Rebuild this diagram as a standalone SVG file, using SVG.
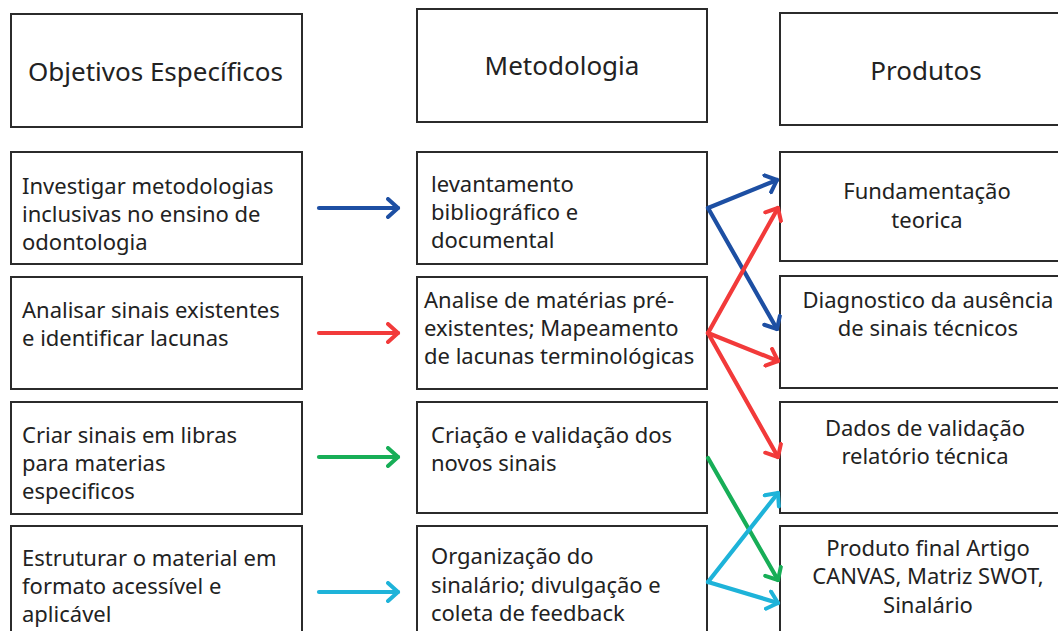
<svg xmlns="http://www.w3.org/2000/svg" width="1058" height="631" viewBox="0 0 1058 631">
<style>
.box{fill:#fff;stroke:#2b2b2b;stroke-width:2}
.t{font-family:"Noto Sans","Open Sans",sans-serif;font-size:22px;fill:#222}
.h{font-family:"Noto Sans","Open Sans",sans-serif;font-size:26px;fill:#222}
.c{text-anchor:middle}
.a{fill:none;stroke-width:4.2;stroke-linecap:round}
.blue{stroke:#1d4fa3}
.red{stroke:#f23a3a}
.green{stroke:#17ae57}
.cyan{stroke:#1eb3d9}
</style>
<defs>
<marker id="mb" markerUnits="userSpaceOnUse" markerWidth="20" markerHeight="22" refX="12" refY="10" orient="auto" viewBox="0 0 20 20"><path d="M2,1 L12,10 L2,19" fill="none" stroke="#1d4fa3" stroke-width="4" stroke-linecap="round" stroke-linejoin="round"/></marker>
<marker id="mr" markerUnits="userSpaceOnUse" markerWidth="20" markerHeight="22" refX="12" refY="10" orient="auto" viewBox="0 0 20 20"><path d="M2,1 L12,10 L2,19" fill="none" stroke="#f23a3a" stroke-width="4" stroke-linecap="round" stroke-linejoin="round"/></marker>
<marker id="mg" markerUnits="userSpaceOnUse" markerWidth="20" markerHeight="22" refX="12" refY="10" orient="auto" viewBox="0 0 20 20"><path d="M2,1 L12,10 L2,19" fill="none" stroke="#17ae57" stroke-width="4" stroke-linecap="round" stroke-linejoin="round"/></marker>
<marker id="mc" markerUnits="userSpaceOnUse" markerWidth="20" markerHeight="22" refX="12" refY="10" orient="auto" viewBox="0 0 20 20"><path d="M2,1 L12,10 L2,19" fill="none" stroke="#1eb3d9" stroke-width="4" stroke-linecap="round" stroke-linejoin="round"/></marker>
</defs>
<rect width="1058" height="631" fill="#fff"/>

<g id="h-objetivos"><rect class="box" x="11" y="14" width="291" height="113"/><text class="h" x="28" y="81">Objetivos Específicos</text></g>
<g id="h-metodologia"><rect class="box" x="417" y="9" width="290" height="113"/><text class="h c" x="562" y="75">Metodologia</text></g>
<g id="h-produtos"><rect class="box" x="780" y="13" width="290" height="112"/><text class="h c" x="926" y="80">Produtos</text></g>

<g id="o1"><rect class="box" x="11" y="152" width="291" height="112"/><text class="t" x="22" y="194">Investigar metodologias</text><text class="t" x="22" y="222">inclusivas no ensino de</text><text class="t" x="22" y="250">odontologia</text></g>
<g id="o2"><rect class="box" x="11" y="277" width="291" height="112"/><text class="t" x="22" y="318">Analisar sinais existentes</text><text class="t" x="22" y="346">e identificar lacunas</text></g>
<g id="o3"><rect class="box" x="11" y="402" width="291" height="112"/><text class="t" x="22" y="443">Criar sinais em libras</text><text class="t" x="22" y="471">para materias</text><text class="t" x="22" y="499">especificos</text></g>
<g id="o4"><rect class="box" x="11" y="526" width="291" height="120"/><text class="t" x="22" y="566">Estruturar o material em</text><text class="t" x="22" y="594">formato acessível e</text><text class="t" x="22" y="622">aplicável</text></g>

<g id="m1"><rect class="box" x="417" y="152" width="290" height="112"/><text class="t" x="431" y="192">levantamento</text><text class="t" x="431" y="220">bibliográfico e</text><text class="t" x="431" y="248">documental</text></g>
<g id="m2"><rect class="box" x="417" y="277" width="290" height="112"/><text class="t" x="424" y="308">Analise de matérias pré-</text><text class="t" x="424" y="336">existentes; Mapeamento</text><text class="t" x="424" y="364">de lacunas terminológicas</text></g>
<g id="m3"><rect class="box" x="417" y="402" width="290" height="111"/><text class="t" x="431" y="443">Criação e validação dos</text><text class="t" x="431" y="471">novos sinais</text></g>
<g id="m4"><rect class="box" x="417" y="526" width="290" height="120"/><text class="t" x="431" y="564">Organização do</text><text class="t" x="431" y="593">sinalário; divulgação e</text><text class="t" x="431" y="621">coleta de feedback</text></g>

<g id="p1"><rect class="box" x="780" y="152" width="290" height="109"/><text class="t c" x="927" y="199">Fundamentação</text><text class="t c" x="927" y="228">teorica</text></g>
<g id="p2"><rect class="box" x="780" y="276" width="290" height="112"/><text class="t c" x="928" y="308">Diagnostico da ausência</text><text class="t c" x="928" y="336">de sinais técnicos</text></g>
<g id="p3"><rect class="box" x="780" y="402" width="290" height="111"/><text class="t c" x="925" y="436">Dados de validação</text><text class="t c" x="925" y="464">relatório técnica</text></g>
<g id="p4"><rect class="box" x="780" y="526" width="290" height="120"/><text class="t c" x="928" y="556">Produto final Artigo</text><text class="t c" x="928" y="584">CANVAS, Matriz SWOT,</text><text class="t c" x="928" y="613">Sinalário</text></g>

<g id="connectors">
<line class="a blue" x1="319" y1="208" x2="398" y2="208" marker-end="url(#mb)"/>
<line class="a red" x1="319" y1="333" x2="398" y2="333" marker-end="url(#mr)"/>
<line class="a green" x1="319" y1="457" x2="398" y2="457" marker-end="url(#mg)"/>
<line class="a cyan" x1="319" y1="592" x2="398" y2="592" marker-end="url(#mc)"/>

<line class="a blue" x1="708" y1="208" x2="777" y2="180" marker-end="url(#mb)"/>
<line class="a blue" x1="708" y1="208" x2="777" y2="329" marker-end="url(#mb)"/>
<line class="a red" x1="708" y1="333" x2="778" y2="208" marker-end="url(#mr)"/>
<line class="a red" x1="708" y1="333" x2="778" y2="361" marker-end="url(#mr)"/>
<line class="a red" x1="708" y1="333" x2="778" y2="457" marker-end="url(#mr)"/>
<line class="a green" x1="708" y1="458" x2="778" y2="580" marker-end="url(#mg)"/>
<line class="a cyan" x1="708" y1="582" x2="778" y2="493" marker-end="url(#mc)"/>
<line class="a cyan" x1="708" y1="582" x2="778" y2="603" marker-end="url(#mc)"/>
</g>
</svg>
